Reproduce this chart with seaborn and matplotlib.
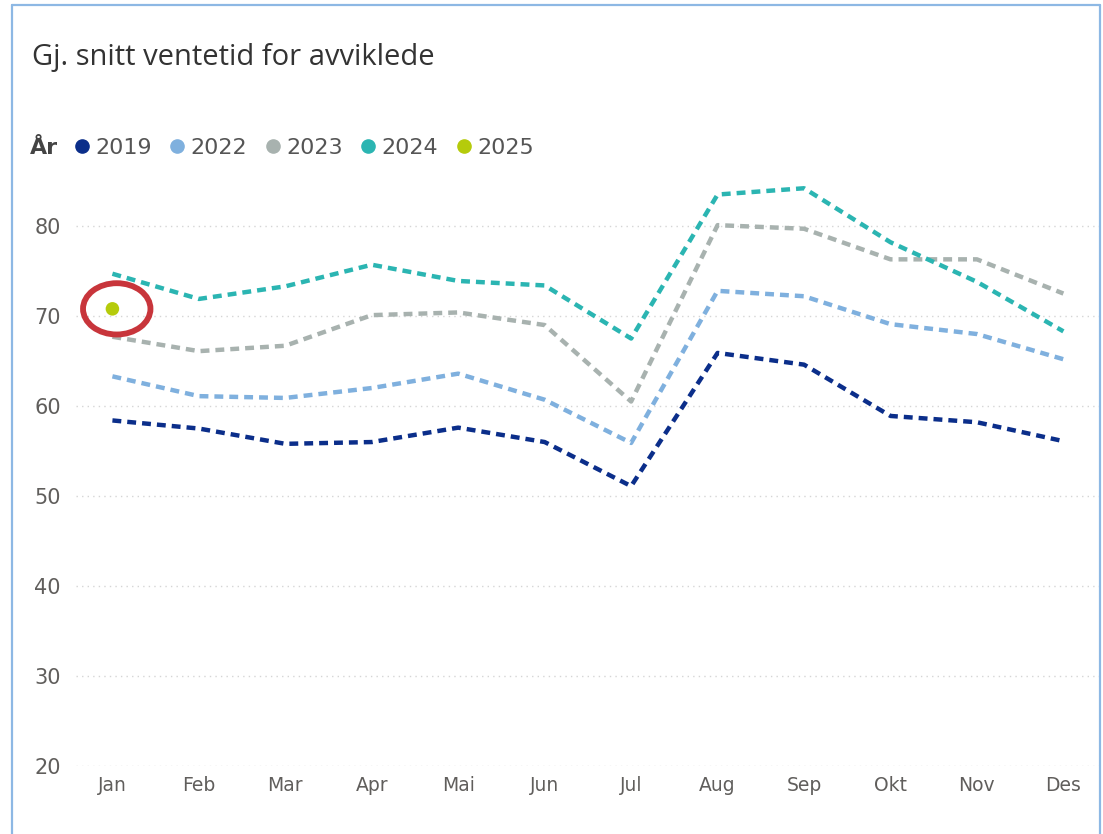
import pandas as pd
import matplotlib.pyplot as plt
import seaborn as sns
from matplotlib.lines import Line2D
from matplotlib.patches import Ellipse

# --- data ---
months = ["Jan", "Feb", "Mar", "Apr", "Mai", "Jun", "Jul", "Aug", "Sep", "Okt", "Nov", "Des"]
v2019 = [58.4, 57.5, 55.8, 56.0, 57.6, 56.0, 51.1, 65.9, 64.6, 58.9, 58.2, 56.1]
v2022 = [63.3, 61.1, 60.9, 62.0, 63.6, 60.7, 55.9, 72.8, 72.2, 69.1, 68.0, 65.2]
v2023 = [67.7, 66.1, 66.7, 70.1, 70.4, 69.0, 60.5, 80.1, 79.7, 76.3, 76.3, 72.5]
v2024 = [74.7, 71.9, 73.3, 75.7, 73.9, 73.4, 67.5, 83.5, 84.2, 78.2, 73.8, 68.3]
v2025_month = ["Jan"]
v2025 = [70.8]
yticks = [20, 30, 40, 50, 60, 70, 80]

years = ["2019", "2022", "2023", "2024"]
colors = {"2019": "#0B2E8A", "2022": "#7FB0DE", "2023": "#A8B2AF",
          "2024": "#2BB5B2", "2025": "#B5CB0B"}

df = pd.DataFrame({
    "Måned": months * 4,
    "Ventetid": v2019 + v2022 + v2023 + v2024,
    "År": sum([[y] * 12 for y in years], []),
})

sns.set_style("white")
plt.rcParams["font.family"] = ["DejaVu Sans"]

fig = plt.figure(figsize=(11.03, 8.34), dpi=100)
ax = fig.add_axes([0.069, 0.0815, 0.928, 0.723])

sns.lineplot(data=df, x="Måned", y="Ventetid", hue="År", style="År",
             palette=colors, dashes=[(2.0, 1.35)] * 4, linewidth=3.2,
             sort=False, legend=False, ax=ax)
sns.scatterplot(x=v2025_month, y=v2025, color=colors["2025"], s=95,
                edgecolor="none", ax=ax, zorder=5)

# rødt markeringsoval rundt 2025-punktet
ax.add_patch(Ellipse((0.05, v2025[0]), 0.78, 5.7, fill=False,
                     edgecolor="#C8353B", linewidth=4.2, zorder=6))

ax.set_ylim(20, 87)
ax.set_xlim(-0.42, 11.42)
ax.set_yticks(yticks)
ax.set_xlabel("")
ax.set_ylabel("")
ax.grid(axis="y", color="#D5D5D5", linestyle=(0, (1, 3)), linewidth=1)
ax.grid(axis="x", visible=False)
sns.despine(ax=ax, left=True, bottom=True)
ax.tick_params(axis="y", length=0, pad=11, labelsize=15, labelcolor="#605E5C")
ax.tick_params(axis="x", length=0, pad=7, labelsize=13.5, labelcolor="#605E5C")

fig.text(32 / 1103, 1 - 58 / 834, "Gj. snitt ventetid for avviklede",
         fontsize=21, color="#333333", va="center", ha="left",
         family=["Open Sans", "DejaVu Sans"])
fig.text(30 / 1103, 1 - 148 / 834, "År", fontsize=16, fontweight="bold",
         color="#444444", va="center", ha="left")

handles = [Line2D([], [], marker="o", linestyle="", color=colors[y],
                  markersize=9.5) for y in colors]
fig.legend(handles, list(colors), loc="center left",
           bbox_to_anchor=(75 / 1103, 1 - 148 / 834), ncol=5, frameon=False,
           fontsize=16, handlelength=0.6, handletextpad=0.3,
           columnspacing=0.85, borderpad=0, borderaxespad=0,
           labelcolor="#555555")

# lys blå ramme rundt visualet
frame = "#8DB8E4"
fig.add_artist(Line2D([12 / 1103, 12 / 1103], [0, 1 - 5 / 834], color=frame, lw=1.6))
fig.add_artist(Line2D([12 / 1103, 1100 / 1103], [1 - 5 / 834, 1 - 5 / 834], color=frame, lw=1.6))
fig.add_artist(Line2D([1100 / 1103, 1100 / 1103], [0, 1 - 5 / 834], color=frame, lw=1.6))

fig.savefig("out.png", dpi=100)
